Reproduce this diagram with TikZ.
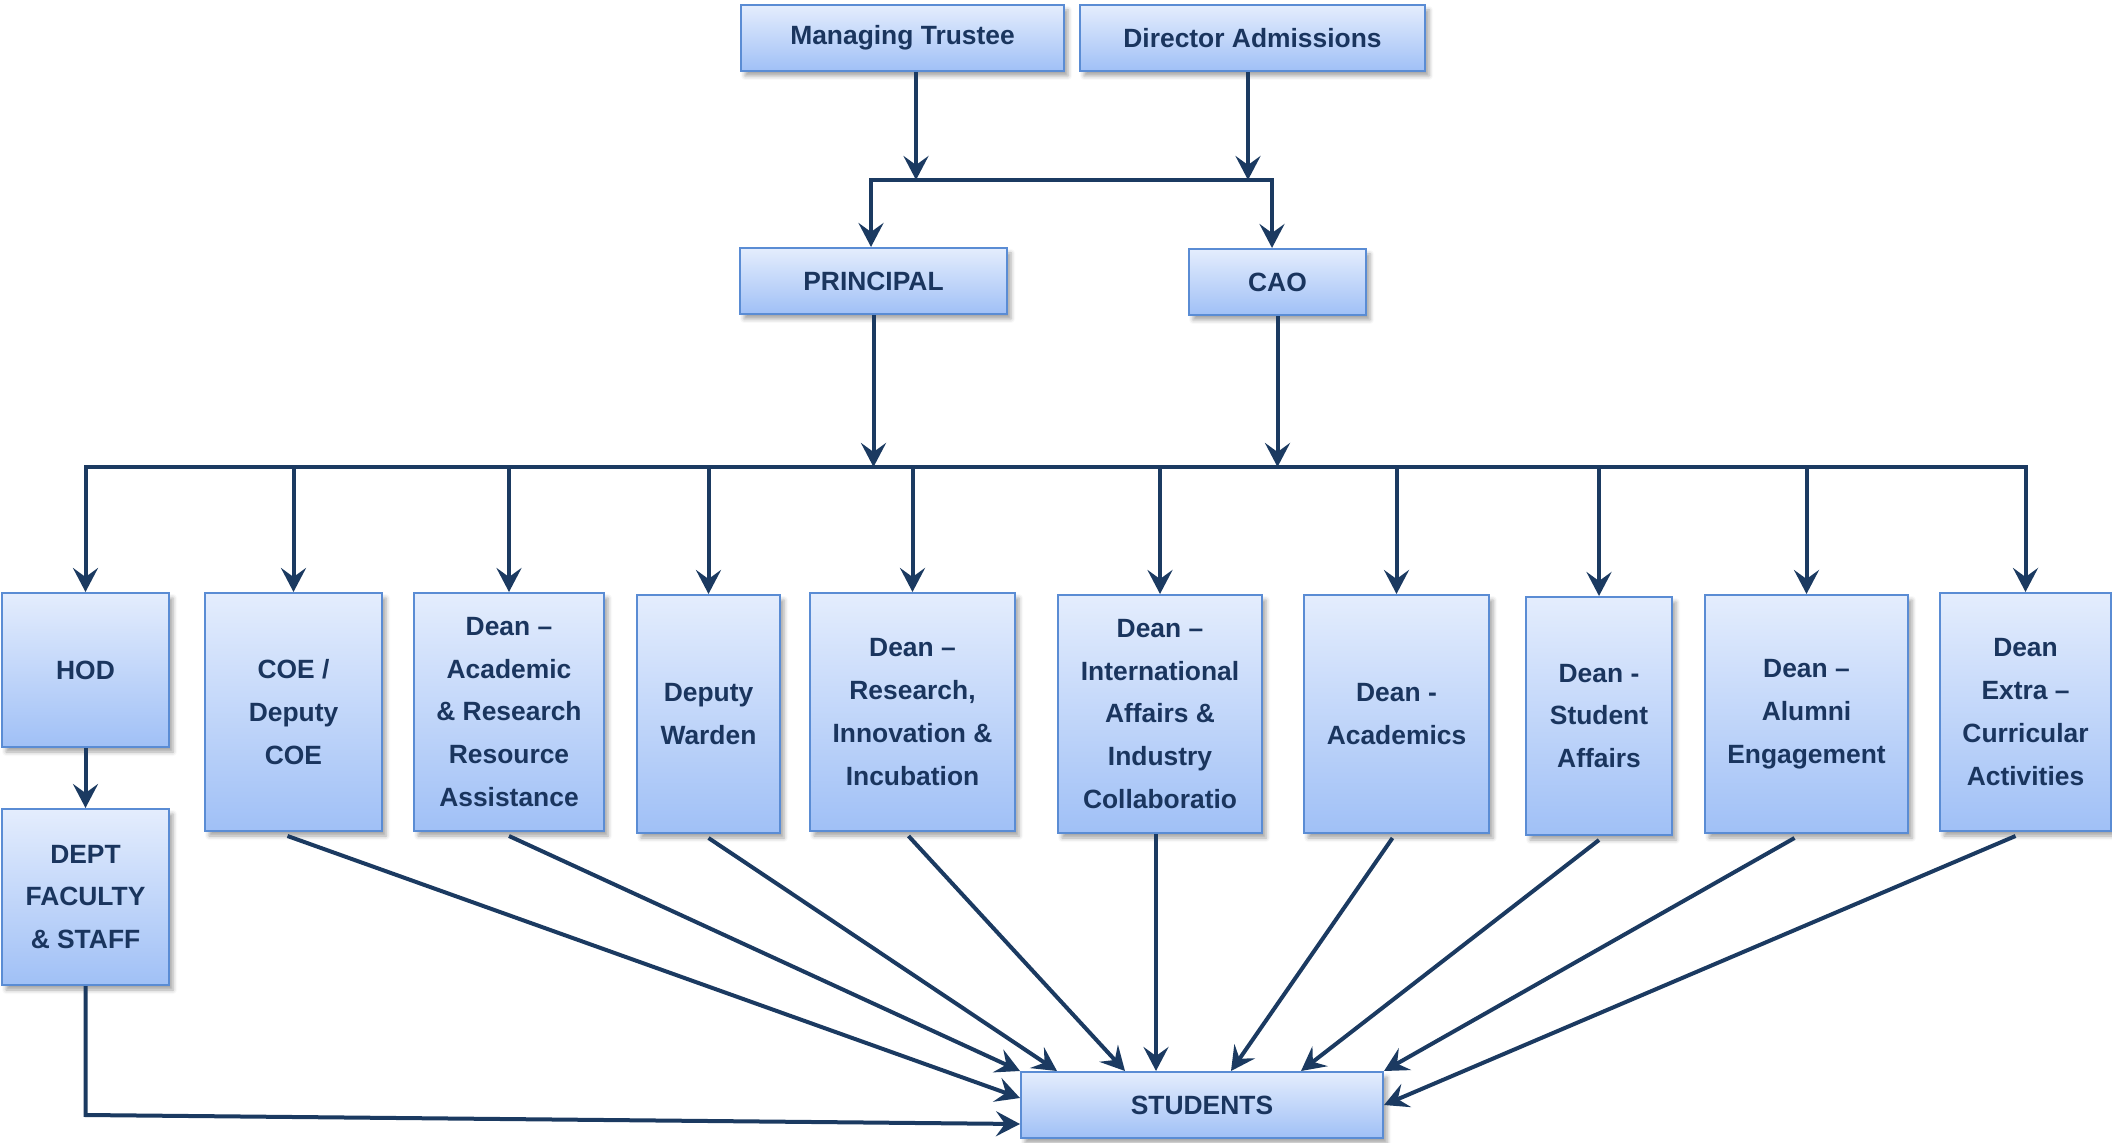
\documentclass[tikz,border=0pt]{standalone}
\usepackage{fontspec}
\setmainfont{Liberation Sans}
\usetikzlibrary{arrows.meta,shadows.blur,calc}
\definecolor{boxtop}{HTML}{E4EDFD}
\definecolor{boxbot}{HTML}{A0C0F6}
\definecolor{boxborder}{HTML}{5A8CD4}
\definecolor{txt}{HTML}{1A355E}
\definecolor{arrc}{HTML}{1B3A61}
\tikzset{
  box/.style={draw=boxborder, line width=1pt, top color=boxtop, bottom color=boxbot,
    text=txt, font=\bfseries\fontsize{13.2}{21.4}\selectfont, align=center, inner sep=0pt,
    blur shadow={shadow xshift=2pt, shadow yshift=-2.5pt, shadow blur radius=2pt, shadow opacity=35}},
  conn/.style={draw=arrc, line width=2pt},
  tip/.tip={Stealth[length=12pt,width=12.5pt,inset=4.5pt]},
  arrow/.style={conn, -tip},
  twoarrow/.style={conn, tip-tip, line join=miter},
}
\begin{document}
\begin{tikzpicture}[x=0.5pt,y=-0.5pt]
\useasboundingbox (0,0) rectangle (2112,1143);

% top level
\node[box, minimum width=161.5pt, minimum height=33pt] (mt) at (902.5,38) {Managing Trustee};
\node[box, minimum width=172.5pt, minimum height=33pt] (da) at (1252.5,38) {Director Admissions};
\node[box, minimum width=133.5pt, minimum height=33pt] (prin) at (873.5,281) {PRINCIPAL};
\node[box, minimum width=88.5pt, minimum height=33pt] (cao) at (1277.5,282) {CAO};

% tier
\node[box, minimum width=83.5pt, minimum height=77pt] (hod) at (85.5,670) {HOD};
\node[box, minimum width=83.5pt, minimum height=88pt] (dept) at (85.5,897) {DEPT\\FACULTY\\\& STAFF};
\node[box, minimum width=88.5pt, minimum height=119pt] (coe) at (293.5,712) {COE /\\Deputy\\COE};
\node[box, minimum width=95pt, minimum height=119pt] (dar) at (509,712) {Dean --\\Academic\\\& Research\\Resource\\Assistance};
\node[box, minimum width=71.5pt, minimum height=119pt] (dw) at (708.5,714) {Deputy\\Warden};
\node[box, minimum width=102.5pt, minimum height=119pt] (dri) at (912.5,712) {Dean --\\Research,\\Innovation \&\\Incubation};
\node[box, minimum width=102pt, minimum height=119pt] (dia) at (1160,714) {Dean --\\International\\Affairs \&\\Industry\\Collaboratio};
\node[box, minimum width=92.5pt, minimum height=119pt] (dac) at (1396.5,714) {Dean -\\Academics};
\node[box, minimum width=73pt, minimum height=119pt] (dsa) at (1599,716) {Dean -\\Student\\Affairs};
\node[box, minimum width=101.5pt, minimum height=119pt] (dae) at (1806.5,714) {Dean --\\Alumni\\Engagement};
\node[box, minimum width=85.5pt, minimum height=119pt] (dec) at (2025.5,712) {Dean\\Extra --\\Curricular\\Activities};

\node[box, minimum width=181pt, minimum height=33pt] (stu) at (1202,1105) {STUDENTS};

% helper coordinates
\coordinate (j1) at (916,180);
\coordinate (j2) at (1248,180);
\coordinate (jl) at (871,180);
\coordinate (jr) at (1272,180);
\coordinate (bus) at (0,467);
\coordinate (dc) at (85.5,1115);

% top connectors
\draw[arrow] (mt.south -| j1) -- (j1);
\draw[arrow] (da.south -| j2) -- (j2);
\draw[twoarrow] (prin.north -| jl) -- (jl) -- (jr) -- (cao.north -| jr);
\draw[arrow] (prin.south) -- (prin.south |- bus);
\draw[arrow] (cao.south) -- (cao.south |- bus);

% bus and drops
\draw[twoarrow] (hod.north) -- (hod.north |- bus) -- (dec.north |- bus) -- (dec.north);
\foreach \n in {coe,dar,dw,dri,dia,dac,dsa,dae}{
  \draw[arrow] (\n.north |- bus) -- (\n.north);
}
\draw[arrow] (hod.south) -- (dept.north);

% to students
\coordinate (tdept) at ([yshift=-9.5pt]stu.west);
\coordinate (tcoe) at ([yshift=3.5pt]stu.west);
\coordinate (tdw) at ([xshift=18.5pt]stu.north west);
\coordinate (tdri) at ([xshift=52.5pt]stu.north west);
\coordinate (tdia) at ([xshift=68pt]stu.north west);
\coordinate (tdac) at ([xshift=105.5pt]stu.north west);
\coordinate (tdsa) at ([xshift=140.5pt]stu.north west);

\draw[arrow] (dept.south) -- (dept.south |- dc) -- (tdept);
\draw[arrow] ([xshift=-3pt,yshift=-2pt]coe.south) -- (tcoe);
\draw[arrow] ([yshift=-2pt]dar.south) -- (stu.north west);
\draw[arrow] ([yshift=-2pt]dw.south) -- (tdw);
\draw[arrow] ([xshift=-2pt,yshift=-2pt]dri.south) -- (tdri);
\draw[arrow] (dia.south -| tdia) -- (tdia);
\draw[arrow] ([xshift=-2pt,yshift=-2pt]dac.south) -- (tdac);
\draw[arrow] ([yshift=-2pt]dsa.south) -- (tdsa);
\draw[arrow] ([xshift=-6pt,yshift=-2pt]dae.south) -- (stu.north east);
\draw[arrow] ([xshift=-5pt,yshift=-2pt]dec.south) -- (stu.east);
\end{tikzpicture}
\end{document}
